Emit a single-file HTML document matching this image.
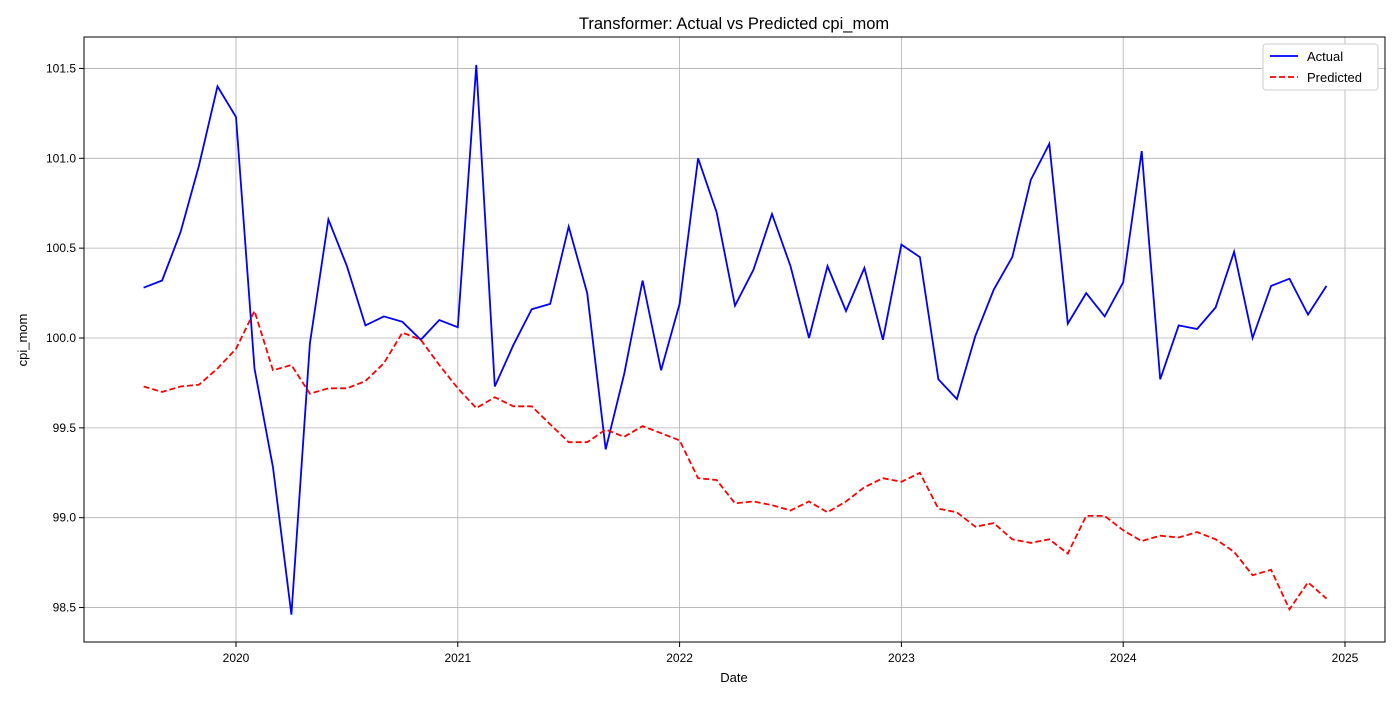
<!DOCTYPE html>
<html><head><meta charset="utf-8">
<style>
body{margin:0;background:#fff;font-family:"Liberation Sans",sans-serif;}
svg text{font-family:"Liberation Sans",sans-serif;}
</style></head>
<body>
<svg id="chart" width="1400" height="700" xmlns="http://www.w3.org/2000/svg">
<rect width="1400" height="700" fill="#fff"/>
<text x="734" y="29" font-size="16.5" text-anchor="middle">Transformer: Actual vs Predicted cpi_mom</text>
<g id="grid"></g>
<g id="ticks"></g>
<g id="series"></g>
<rect x="84" y="37" width="1301" height="605" fill="none" stroke="#000" stroke-width="1"/>
<text x="734" y="682" font-size="13" text-anchor="middle">Date</text>
<text x="27" y="340" font-size="13" text-anchor="middle" transform="rotate(-90 27 340)">cpi_mom</text>
<g>
<rect x="1263" y="44" width="115" height="46" rx="3" fill="#fff" stroke="#ccc"/>
<line x1="1270" y1="56" x2="1298" y2="56" stroke="#0000ff" stroke-width="1.8"/>
<text x="1307" y="61" font-size="13">Actual</text>
<line x1="1270" y1="77" x2="1298" y2="77" stroke="#ff0000" stroke-width="1.8" stroke-dasharray="6,3"/>
<text x="1307" y="82" font-size="13">Predicted</text>
</g>
</svg>
<script>
const startYear = 2019, startMonth = 8;
const actual = [100.28,100.32,100.59,100.96,101.40,101.23,99.83,99.28,98.46,99.97,100.66,100.40,100.07,100.12,100.09,99.99,100.10,100.06,101.52,99.73,99.96,100.16,100.19,100.62,100.25,99.38,99.80,100.32,99.82,100.19,101.00,100.70,100.18,100.38,100.69,100.40,100.00,100.40,100.15,100.39,99.99,100.52,100.45,99.77,99.66,100.01,100.27,100.45,100.88,101.08,100.08,100.25,100.12,100.31,101.04,99.77,100.07,100.05,100.17,100.48,100.00,100.29,100.33,100.13,100.29];
const predicted = [99.73,99.70,99.73,99.74,99.83,99.94,100.15,99.82,99.85,99.69,99.72,99.72,99.76,99.86,100.03,99.99,99.85,99.72,99.61,99.67,99.62,99.62,99.52,99.42,99.42,99.49,99.45,99.51,99.47,99.43,99.22,99.21,99.08,99.09,99.07,99.04,99.09,99.03,99.09,99.17,99.22,99.20,99.25,99.05,99.03,98.95,98.97,98.88,98.86,98.88,98.80,99.01,99.01,98.93,98.87,98.90,98.89,98.92,98.88,98.81,98.68,98.71,98.49,98.64,98.55];
const xTicks = [2020,2021,2022,2023,2024,2025];
const yTicks = [98.5,99.0,99.5,100.0,100.5,101.0,101.5];

const NS="http://www.w3.org/2000/svg";
function xs(t){return 236 + (t-2020)*221.8;}
function ys(v){return 338 - (v-100)*179.7;}
function tOf(i){return startYear + (startMonth-1+i)/12;}
function mk(tag,attrs,parent){const e=document.createElementNS(NS,tag);for(const k in attrs)e.setAttribute(k,attrs[k]);parent.appendChild(e);return e;}
const grid=document.getElementById('grid'), ticks=document.getElementById('ticks'), series=document.getElementById('series');
xTicks.forEach(t=>{
  const x=xs(t);
  const g=mk('line',{x1:x,x2:x,y1:37,y2:642,stroke:'#b0b0b0','stroke-width':0.8},grid);
  
  
  mk('line',{x1:x,x2:x,y1:642,y2:647,stroke:'#000'},ticks);
  const tx=mk('text',{x:x,y:662,'font-size':12,'text-anchor':'middle'},ticks);
  tx.textContent=t;
  
  
});
yTicks.forEach(v=>{
  const y=ys(v);
  const g=mk('line',{x1:84,x2:1385,y1:y,y2:y,stroke:'#b0b0b0','stroke-width':0.8},grid);
  
  
  mk('line',{x1:79,x2:84,y1:y,y2:y,stroke:'#000'},ticks);
  const tx=mk('text',{x:76,y:y+4,'font-size':12,'text-anchor':'end'},ticks);
  tx.textContent=v.toFixed(1);
  
  
});
function pts(arr){return arr.map((v,i)=>xs(tOf(i)).toFixed(1)+','+ys(v).toFixed(1)).join(' ');}
const a=mk('polyline',{points:pts(actual),fill:'none',stroke:'#0000ff','stroke-width':1.8},series);


const p=mk('polyline',{points:pts(predicted),fill:'none',stroke:'#ff0000','stroke-width':1.8,'stroke-dasharray':'6,3'},series);


</script>
</body></html>
